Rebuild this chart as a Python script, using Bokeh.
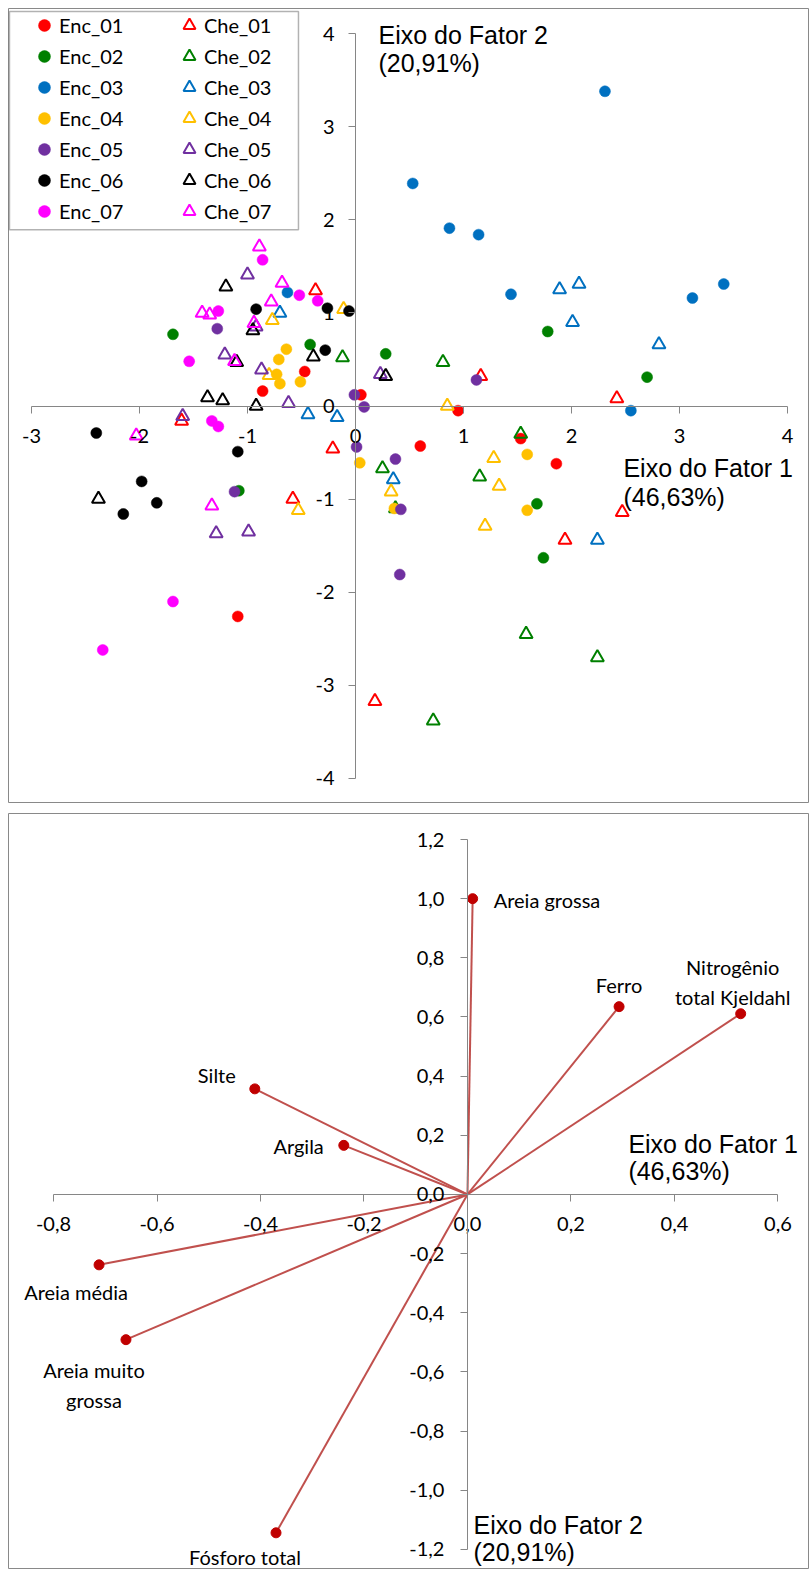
from bokeh.plotting import figure
from bokeh.models import (LinearAxis, FixedTicker, CustomJSTickFormatter, Legend, LegendItem,
                          BoxAnnotation, Label, ColumnDataSource, Range1d, CDSView, IndexFilter)
from bokeh.layouts import column
from bokeh.embed import file_html
from bokeh.resources import INLINE
from bokeh.core.properties import value

# ---------------- data: scores (top chart) ----------------
enc01_x = [-0.47, -0.86, 0.05, 0.95, 1.53, 0.60, 1.86, -1.09]
enc01_y = [0.37, 0.16, 0.12, -0.05, -0.35, -0.43, -0.62, -2.26]
che01_x = [-0.37, -1.61, -0.21, -0.58, 1.16, 2.42, 1.94, 2.47, 0.18]
che01_y = [1.24, -0.16, -0.46, -1.00, 0.32, 0.08, -1.44, -1.14, -3.17]
enc02_x = [-1.69, -0.42, 0.28, -1.08, 1.78, 2.70, 1.68, 1.74]
enc02_y = [0.77, 0.66, 0.56, -0.91, 0.80, 0.31, -1.05, -1.63]
che02_x = [-0.12, 0.25, 0.37, 0.81, 1.53, 1.15, 0.72, 1.58, 2.24]
che02_y = [0.52, -0.67, -1.10, 0.47, -0.30, -0.76, -3.38, -2.45, -2.70]
enc03_x = [-0.63, 1.44, 3.12, 3.41, 2.55, 2.31, 0.53, 0.87, 1.14]
enc03_y = [1.22, 1.20, 1.16, 1.31, -0.05, 3.38, 2.39, 1.91, 1.84]
che03_x = [-0.70, -0.44, -0.17, 0.35, 1.89, 2.07, 2.01, 2.81, 2.24]
che03_y = [1.00, -0.09, -0.12, -0.79, 1.25, 1.31, 0.90, 0.66, -1.44]
enc04_x = [-0.64, -0.71, -0.73, -0.70, -0.51, 0.04, 1.59, 1.59, 0.36]
enc04_y = [0.61, 0.50, 0.34, 0.24, 0.26, -0.61, -0.52, -1.12, -1.10]
che04_x = [-0.11, -0.77, -0.80, 0.85, 1.28, 1.33, 0.33, -0.53, 1.20]
che04_y = [1.04, 0.92, 0.33, 0.00, -0.56, -0.86, -0.92, -1.12, -1.29]
enc05_x = [-1.28, -0.01, 0.08, 0.01, 0.37, -1.12, 0.42, 0.41, 1.12]
enc05_y = [0.83, 0.12, -0.01, -0.44, -0.57, -0.92, -1.11, -1.81, 0.28]
che05_x = [-1.00, -0.92, -1.21, -0.87, 0.23, -0.62, -1.60, -1.29, -0.99]
che05_y = [1.41, 0.85, 0.55, 0.39, 0.34, 0.03, -0.11, -1.37, -1.35]
enc06_x = [-0.26, -0.06, -0.92, -0.28, -2.40, -1.09, -1.98, -1.84, -2.15]
enc06_y = [1.05, 1.02, 1.04, 0.60, -0.29, -0.49, -0.81, -1.04, -1.16]
che06_x = [-1.20, -0.95, -1.10, -0.39, 0.28, -1.37, -1.23, -0.92, -2.38]
che06_y = [1.28, 0.81, 0.47, 0.53, 0.32, 0.09, 0.06, 0.00, -1.00]
enc07_x = [-0.86, -0.52, -0.35, -1.27, -1.54, -1.33, -1.27, -1.69, -2.34]
enc07_y = [1.57, 1.19, 1.13, 1.02, 0.48, -0.16, -0.22, -2.10, -2.62]
che07_x = [-0.89, -0.68, -0.78, -0.94, -1.42, -1.35, -1.12, -2.03, -1.33]
che07_y = [1.71, 1.32, 1.12, 0.89, 1.00, 0.98, 0.48, -0.32, -1.07]

enc_names = ["Enc_01", "Enc_02", "Enc_03", "Enc_04", "Enc_05", "Enc_06", "Enc_07"]
che_names = ["Che_01", "Che_02", "Che_03", "Che_04", "Che_05", "Che_06", "Che_07"]
enc_data = [(enc01_x, enc01_y), (enc02_x, enc02_y), (enc03_x, enc03_y), (enc04_x, enc04_y),
            (enc05_x, enc05_y), (enc06_x, enc06_y), (enc07_x, enc07_y)]
che_data = [(che01_x, che01_y), (che02_x, che02_y), (che03_x, che03_y), (che04_x, che04_y),
            (che05_x, che05_y), (che06_x, che06_y), (che07_x, che07_y)]
series_colors = ["#FF0000", "#008000", "#0070C0", "#FFC000", "#7030A0", "#000000", "#FF00FF"]

x1_ticks = [-3, -2, -1, 0, 1, 2, 3, 4]
y1_ticks = [-4, -3, -2, -1, 0, 1, 2, 3, 4]

# ---------------- data: loadings (bottom chart) ----------------
var_names = ["Areia grossa", "Ferro", "Nitrogênio\ntotal Kjeldahl", "Silte", "Argila",
             "Areia média", "Areia muito\ngrossa", "Fósforo total"]
load_f1 = [0.01, 0.293, 0.528, -0.411, -0.239, -0.712, -0.660, -0.370]
load_f2 = [1.00, 0.635, 0.611, 0.357, 0.166, -0.238, -0.491, -1.144]
x2_ticks = [-0.8, -0.6, -0.4, -0.2, 0.0, 0.2, 0.4, 0.6]
y2_ticks = [-1.2, -1.0, -0.8, -0.6, -0.4, -0.2, 0.0, 0.2, 0.4, 0.6, 0.8, 1.0, 1.2]

axis_title_1 = ["Eixo do Fator 1", "(46,63%)"]
axis_title_2 = ["Eixo do Fator 2", "(20,91%)"]

# label placement (screen px offsets, style only)
lab_dx = [21, 0, -8, -38, -20, -23, -32, -31]
lab_dy = [1, -22, -32, -14, 1, 27, 45, 24]
lab_align = ["left", "center", "center", "center", "right", "center", "center", "center"]

W = 809
H1 = 803
H2 = 756
AX = "#868686"
TICK_FONT = "Lato"
TITLE_FONT = "Liberation Sans"


def style_axis(ax, standoff):
    ax.axis_line_color = AX
    ax.axis_line_width = 1
    ax.major_tick_line_color = AX
    ax.major_tick_out = 7
    ax.major_tick_in = 0
    ax.minor_tick_line_color = None
    ax.major_label_text_font = TICK_FONT
    ax.major_label_text_font_size = "20px"
    ax.major_label_text_color = "#000000"
    ax.major_label_standoff = standoff


# ================= top chart =================
p1 = figure(width=W, height=H1, x_range=Range1d(-3.213, 4.204), y_range=Range1d(-4.269, 4.269),
            output_backend="svg", toolbar_location=None, x_axis_location=None, y_axis_location=None,
            min_border_left=8, min_border_top=8, min_border_right=0, min_border_bottom=0,
            background_fill_color="white", border_fill_color="white",
            outline_line_color="#898989", outline_line_width=1)
p1.xgrid.grid_line_color = None
p1.ygrid.grid_line_color = None

int_fmt = "return tick.toFixed(0);"
xa1 = LinearAxis(fixed_location=0, ticker=FixedTicker(ticks=x1_ticks), bounds=(-3, 4),
                 formatter=CustomJSTickFormatter(code=int_fmt))
ya1 = LinearAxis(fixed_location=0, ticker=FixedTicker(ticks=y1_ticks), bounds=(-4, 4),
                 formatter=CustomJSTickFormatter(code=int_fmt))
style_axis(xa1, 16)
style_axis(ya1, 14)
p1.add_layout(xa1, "below")
p1.add_layout(ya1, "left")

enc_r, che_r = [], []
for i in range(7):
    ex, ey = enc_data[i]
    r = p1.scatter(ex, ey, marker="circle", size=11, fill_color=series_colors[i],
                   line_color=series_colors[i], line_width=0.5)
    enc_r.append(r)
    cx, cy = che_data[i]
    r = p1.scatter(cx, cy, marker="triangle", size=13, fill_color=None,
                   line_color=series_colors[i], line_width=2)
    che_r.append(r)

box = BoxAnnotation(left=-3.204, right=-0.528, top=4.237, bottom=1.892,
                    fill_color="white", fill_alpha=1.0, line_color="black", line_width=1.5)
p1.add_layout(box)


def make_legend(names, rends, loc):
    return Legend(items=[LegendItem(label=n, renderers=[r]) for n, r in zip(names, rends)],
                  location=loc, glyph_width=30, glyph_height=30, label_standoff=0,
                  padding=0, spacing=1, margin=0, border_line_color=None,
                  background_fill_alpha=0, label_text_font=TICK_FONT,
                  label_text_font_size="20px", label_text_color="#000000", label_height=20)


p1.add_layout(make_legend(enc_names, enc_r, (21, 577)))
p1.add_layout(make_legend(che_names, che_r, (166, 577)))

for txt, y in zip(axis_title_2, [3.989, 3.688]):
    p1.add_layout(Label(x=0.213, y=y, text=txt, text_font=TITLE_FONT, text_font_size="25px",
                        text_baseline="middle", text_align="left", text_color="#000000"))
for txt, y in zip(axis_title_1, [-0.667, -0.978]):
    p1.add_layout(Label(x=2.481, y=y, text=txt, text_font=TITLE_FONT, text_font_size="25px",
                        text_baseline="middle", text_align="left", text_color="#000000"))

# ================= bottom chart =================
p2 = figure(width=W, height=H2, x_range=Range1d(-0.887, 0.661), y_range=Range1d(-1.268, 1.288),
            output_backend="svg", toolbar_location=None, x_axis_location=None, y_axis_location=None,
            min_border_left=8, min_border_top=0, min_border_right=0, min_border_bottom=0,
            background_fill_color="white", border_fill_color="white",
            outline_line_color="#898989", outline_line_width=1)
p2.xgrid.grid_line_color = None
p2.ygrid.grid_line_color = None

dec_fmt = "return tick.toFixed(1).replace('.', ',');"
xa2 = LinearAxis(fixed_location=0, ticker=FixedTicker(ticks=x2_ticks), bounds=(-0.8, 0.6),
                 formatter=CustomJSTickFormatter(code=dec_fmt))
ya2 = LinearAxis(fixed_location=0, ticker=FixedTicker(ticks=y2_ticks), bounds=(-1.2, 1.2),
                 formatter=CustomJSTickFormatter(code=dec_fmt))
style_axis(xa2, 16)
style_axis(ya2, 16)
p2.add_layout(xa2, "below")
p2.add_layout(ya2, "left")

src = ColumnDataSource(dict(x0=[0.0] * len(load_f1), y0=[0.0] * len(load_f1), x=load_f1, y=load_f2,
                            name=var_names, dx=lab_dx, dy=lab_dy))
p2.segment(x0="x0", y0="y0", x1="x", y1="y", source=src, line_color="#C0504D", line_width=2)
p2.scatter("x", "y", source=src, marker="circle", size=10, fill_color="#C00000", line_color="#C00000")
for al in ["left", "center", "right"]:
    idx = [i for i, a in enumerate(lab_align) if a == al]
    p2.text(x="x", y="y", text="name", source=src, view=CDSView(filter=IndexFilter(idx)),
            x_offset="dx", y_offset="dy", text_align=al, text_baseline="middle",
            text_font=value(TICK_FONT), text_font_size="20px", text_color="#000000",
            text_line_height=1.25)

for txt, y in zip(axis_title_1, [0.172, 0.078]):
    p2.add_layout(Label(x=0.311, y=y, text=txt, text_font=TITLE_FONT, text_font_size="25px",
                        text_baseline="middle", text_align="left", text_color="#000000"))
for txt, y in zip(axis_title_2, [-1.116, -1.210]):
    p2.add_layout(Label(x=0.0116, y=y, text=txt, text_font=TITLE_FONT, text_font_size="25px",
                        text_baseline="middle", text_align="left", text_color="#000000"))

layout = column(p1, p2, spacing=10)
open("out.html", "w").write(file_html(layout, INLINE))
